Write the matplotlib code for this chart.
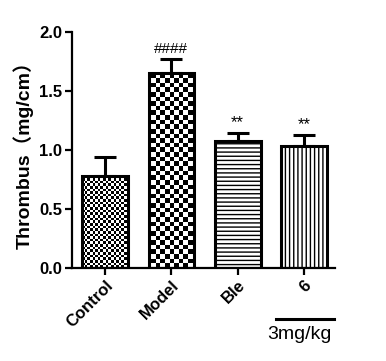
import numpy as np
import matplotlib
matplotlib.use('Agg')
import matplotlib.pyplot as plt
import matplotlib.transforms as mtransforms

plt.rcParams['font.family'] = ['Liberation Sans', 'Noto Sans CJK SC', 'DejaVu Sans']
plt.rcParams['hatch.linewidth'] = 1.0

# データ
groups = ['Control', 'Model', 'Ble', '6']
means = [0.78, 1.65, 1.075, 1.03]
errors = [0.16, 0.125, 0.07, 0.10]
marks = ['', '####', '**', '**']
dose_label = '3mg/kg'

fig = plt.figure(figsize=(3.86, 3.61), dpi=100)
ax = fig.add_axes([0.1865, 0.2576, 0.6815, 0.6536])

x = np.arange(len(groups))
ax.errorbar(x, means, yerr=[np.zeros(len(means)), errors], fmt='none',
            ecolor='black', elinewidth=2.2, capsize=8, capthick=2.2, zorder=1)

bars = ax.bar(x, means, width=0.69, color='white', edgecolor='black',
              linewidth=2.2, zorder=2)
bars[2].set_hatch('----')
bars[3].set_hatch('||||')

# チェッカー模様 (Control: 細かい, Model: 粗い)
ax_w, ax_h = 263, 236
for idx, cell in [(0, 2.6), (1, 4.6)]:
    nx, ny = int(ax_w / cell), int(ax_h / cell)
    board = (np.add.outer(np.arange(ny), np.arange(nx)) % 2).astype(float)
    im = ax.imshow(board, cmap='gray', extent=(0, 1, 0, 1), transform=ax.transAxes,
                   interpolation='nearest', aspect='auto', zorder=1.5)
    im.set_clip_path(bars[idx])
    bars[idx].set_facecolor('none')
    bars[idx].set_zorder(3)

for xi, m, e, s in zip(x, means, errors, marks):
    if s:
        fs = 11 if s.startswith('#') else 12
        ax.text(xi, m + e + 0.02, s, ha='center', va='bottom', fontsize=fs)

ax.set_xlim(-0.5, 3.47)
ax.set_ylim(0, 2.0)
ax.set_yticks([0.0, 0.5, 1.0, 1.5, 2.0])
ax.set_yticklabels(['0.0', '0.5', '1.0', '1.5', '2.0'], fontweight='bold', fontsize=12)
ax.set_xticks(x)
ax.set_xticklabels(groups, rotation=45, ha='right', rotation_mode='anchor',
                   fontweight='bold', fontsize=12)
ax.set_ylabel('Thrombus（mg/cm）', fontweight='bold', fontsize=14, labelpad=4)

for side in ['top', 'right']:
    ax.spines[side].set_visible(False)
for side in ['left', 'bottom']:
    ax.spines[side].set_linewidth(1.6)
ax.tick_params(width=1.6, length=5, direction='out', pad=2)
ax.set_facecolor('white')

# 用量ライン
trans = mtransforms.blended_transform_factory(ax.transData, ax.transAxes)
ax.plot([2.58, 3.45], [-0.216, -0.216], color='black', lw=2.2,
        transform=trans, clip_on=False)
ax.text(2.93, -0.245, dose_label, transform=trans, ha='center', va='top', fontsize=14)

fig.savefig('out.png', dpi=100, facecolor='white')
